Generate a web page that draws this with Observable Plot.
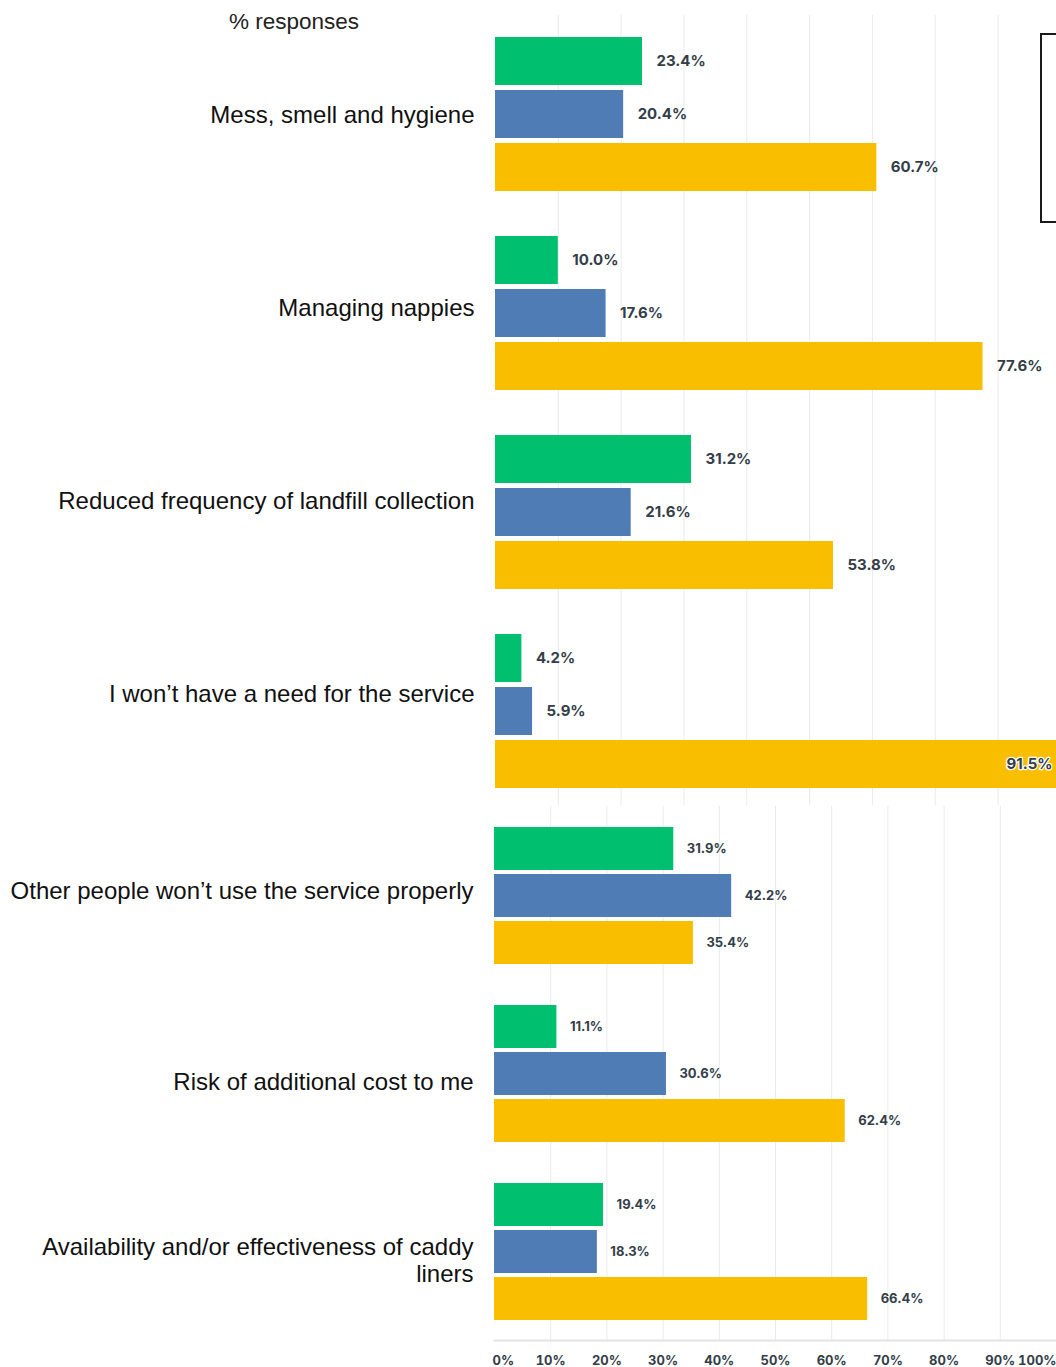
<!DOCTYPE html>
<html><head><meta charset="utf-8">
<script src="https://cdn.jsdelivr.net/npm/d3@7"></script>
<script src="https://cdn.jsdelivr.net/npm/@observablehq/plot@0.6"></script>
<style>
html,body{margin:0;padding:0;background:#fff;overflow:hidden;}
#wrap{position:relative;width:1056px;height:1367px;overflow:hidden;}
#top{position:absolute;left:0;top:0;}
#bottom{position:absolute;left:0;top:805px;}
#bottom svg{background:#fff;}
#ylabel{position:absolute;left:229px;top:9px;font:22.5px "Liberation Sans",Arial,sans-serif;color:#222;}
#legend{position:absolute;left:1040px;top:33px;width:60px;height:186px;border:2px solid #1a1a1a;background:#fff;}
</style></head>
<body>
<div id="wrap"><div id="top"></div><div id="bottom"></div><div id="ylabel">% responses</div><div id="legend"></div></div>
<script>
// ---- data ----
const series = ["Series 1", "Series 2", "Series 3"];
const colors = ["#00BF6F", "#507CB6", "#F9BE00"];

const topCategories = [
  "Mess, smell and hygiene",
  "Managing nappies",
  "Reduced frequency of landfill collection",
  "I won’t have a need for the service"
];
const topSeries1 = [23.4, 10.0, 31.2, 4.2];
const topSeries2 = [20.4, 17.6, 21.6, 5.9];
const topSeries3 = [60.7, 77.6, 53.8, 91.5];

const bottomCategories = [
  "Other people won’t use the service properly",
  "Risk of additional cost to me",
  "Availability and/or effectiveness of caddy\nliners"
];
const bottomSeries1 = [31.9, 11.1, 19.4];
const bottomSeries2 = [42.2, 30.6, 18.3];
const bottomSeries3 = [35.4, 62.4, 66.4];

const tickValues = [0, 10, 20, 30, 40, 50, 60, 70, 80, 90, 100];

// ---- build tables ----
function rowsOf(cats, vals) {
  const out = [];
  cats.forEach((c, i) => vals.forEach((v, j) => out.push({category: c, series: series[j], value: v[i]})));
  return out;
}
const topRows = rowsOf(topCategories, [topSeries1, topSeries2, topSeries3]);
const bottomRows = rowsOf(bottomCategories, [bottomSeries1, bottomSeries2, bottomSeries3]);
const fmt = d => d.value.toFixed(1) + "%";
const labelFont = "'Liberation Sans', Arial, sans-serif";
const valueColor = "#333e48";

// ---- top panel ----
const topMax = 89.3;
const topDy = [0, -6, -12, -18];
const topPlot = Plot.plot({
  width: 1056, height: 811,
  marginTop: 15, marginBottom: 0, marginLeft: 495, marginRight: 0,
  style: {fontFamily: "Inter, sans-serif", background: "transparent"},
  x: {domain: [0, topMax], axis: null},
  y: {domain: series, paddingInner: 0.094, paddingOuter: 0.415, axis: null},
  fy: {domain: topCategories, padding: 0, axis: null},
  color: {domain: series, range: colors},
  marks: [
    Plot.gridX({ticks: tickValues.filter(t => t > 0 && t < topMax), stroke: "#ebebeb", strokeOpacity: 1}),
    Plot.barX(topRows, {x: "value", y: "series", fy: "category", fill: "series", clip: true}),
    Plot.text(topRows.filter(d => d.value <= topMax), {
      x: "value", y: "series", fy: "category", text: fmt,
      textAnchor: "start", dx: 14, fill: valueColor, fontSize: 15, fontWeight: 700
    }),
    Plot.text(topRows.filter(d => d.value > topMax), {
      frameAnchor: "right", y: "series", fy: "category", text: fmt,
      textAnchor: "end", dx: -4, fill: valueColor, stroke: "white", strokeWidth: 2.5,
      fontSize: 15, fontWeight: 700
    }),
    ...topCategories.map((c, i) => Plot.text([c], {
      fy: d => d, text: d => d, frameAnchor: "left", textAnchor: "end",
      dx: -21, dy: topDy[i], fontFamily: labelFont, fontSize: 24, fill: "#111"
    }))
  ]
});
document.getElementById("top").append(topPlot);

// ---- bottom panel ----
const bottomDy = [-5, 8, 8];
const tickOpts = {tickFormat: d => d + "%", tickSize: 0, tickPadding: 15, label: null,
  fontSize: 13, fontWeight: 700, fill: valueColor};
const bottomPlot = Plot.plot({
  width: 1056, height: 562,
  marginTop: 0, marginBottom: 26.5, marginLeft: 494, marginRight: 0,
  style: {fontFamily: "Inter, sans-serif"},
  x: {domain: [0, 100], label: null},
  y: {domain: series, paddingInner: 0.094, paddingOuter: 0.42, axis: null},
  fy: {domain: bottomCategories, padding: 0, axis: null},
  color: {domain: series, range: colors},
  marks: [
    Plot.gridX({ticks: tickValues.filter(t => t > 0 && t < 100), stroke: "#ebebeb", strokeOpacity: 1}),
    Plot.frame({anchor: "bottom", facetAnchor: "bottom", stroke: "#e3e3e3", strokeWidth: 2}),
    Plot.barX(bottomRows, {x: "value", y: "series", fy: "category", fill: "series"}),
    Plot.text(bottomRows, {
      x: "value", y: "series", fy: "category", text: fmt,
      textAnchor: "start", dx: 13, fill: valueColor, fontSize: 13, fontWeight: 700
    }),
    ...bottomCategories.map((c, i) => Plot.text([c], {
      fy: d => d, text: d => d, frameAnchor: "left", textAnchor: "end", lineHeight: 1.13,
      dx: -21, dy: bottomDy[i], fontFamily: labelFont, fontSize: 24, fill: "#111"
    })),
    Plot.axisX({...tickOpts, ticks: tickValues.filter(t => t > 0 && t < 100)}),
    Plot.axisX({...tickOpts, ticks: tickValues.filter(t => t === 0), textAnchor: "start", dx: -2}),
    Plot.axisX({...tickOpts, ticks: tickValues.filter(t => t === 100), textAnchor: "end"})
  ]
});
document.getElementById("bottom").append(bottomPlot);
</script>
</body></html>
